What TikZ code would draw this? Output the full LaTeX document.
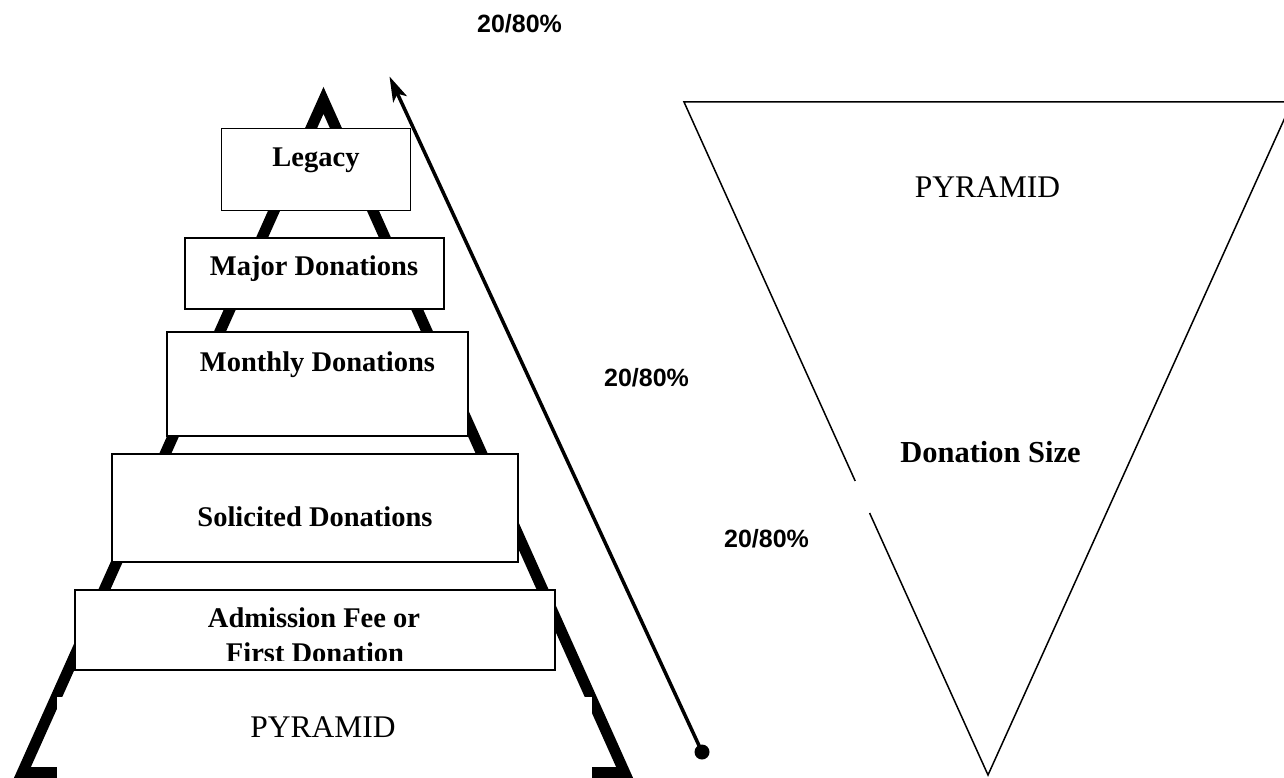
\documentclass[tikz,border=0pt]{standalone}
\usepackage{fontspec}
\setmainfont{Liberation Serif}
\newfontfamily\arialf{Liberation Sans}
\usetikzlibrary{arrows.meta}
\begin{document}
\begin{tikzpicture}[x=1pt,y=-1pt,
  tier/.style={draw=black, line width=1.8pt, fill=white, inner sep=0pt, outer sep=0pt},
  tiertext/.style={font=\fontsize{28.5}{32}\selectfont\bfseries, anchor=base, inner sep=0pt},
  pyrtext/.style={font=\fontsize{31.5}{34}\selectfont, anchor=base, inner sep=0pt},
  sizetext/.style={font=\fontsize{30.5}{34}\selectfont\bfseries, anchor=base, inner sep=0pt},
  pct/.style={font=\arialf\bfseries\fontsize{25}{28}\selectfont, anchor=base, inner sep=0pt},
  thickpyr/.style={line width=11pt, line join=miter},
  thinpyr/.style={line width=1.5pt, line join=miter},
  arrowline/.style={line width=3.5pt, -{Stealth[length=25pt,width=15pt,inset=6pt]}}
]
\clip (0,0) rectangle (1284,778);
\fill[white] (0,0) rectangle (1284,778);

% big pyramid
\coordinate (apex) at (323.5,100.4);
\coordinate (bl) at (22.4,772.5);
\coordinate (br) at (624.6,772.5);
\draw[thickpyr] (apex) -- (bl) -- (br) -- cycle;
\fill[white] (57,697) rectangle (592,790);
\node[pyrtext] (pyr1) at (323,737) {PYRAMID};

% tiers
\node[tier, minimum width=189, minimum height=82] (legacy) at (316,169.5) {};
\node[tiertext] (legacyT) at (316,167) {Legacy};

\node[tier, minimum width=259, minimum height=71] (major) at (314.5,273.5) {};
\node[tiertext] (majorT) at (314,275) {Major Donations};

\node[tier, minimum width=301, minimum height=104] (monthly) at (317.5,384) {};
\node[tiertext] (monthlyT) at (317.5,371) {Monthly Donations};

\node[tier, minimum width=406, minimum height=108] (solicited) at (315,508) {};
\node[tiertext] (solicitedT) at (315,526) {Solicited Donations};

\node[tier, minimum width=480, minimum height=80] (admission) at (315,630) {};
\node[tiertext] (admT1) at (314,627) {Admission Fee or};
\begin{scope}
  \clip (75,590) rectangle (555,660);
  \node[tiertext] (admT2) at (315,662) {First Donation};
\end{scope}

% inverted pyramid
\coordinate (tl) at (684,102);
\coordinate (tr) at (1292,102);
\coordinate (bt) at (988,775);
\coordinate (g1) at (855.2,481);
\coordinate (g2) at (869.6,513);
\draw[thinpyr] (g1) -- (tl) -- (tr) -- (bt) -- (g2);
\node[pyrtext] (pyr2) at (987.5,197) {PYRAMID};
\node[sizetext] (dsize) at (990.5,462) {Donation Size};

% percentages
\node[pct] (p1) at (519.5,33) {20/80\%};
\node[pct] (p2) at (646.5,386) {20/80\%};
\node[pct] (p3) at (766.5,547) {20/80\%};

% arrow
\coordinate (arrS) at (702,752);
\coordinate (arrE) at (389.5,76.5);
\draw[arrowline] (arrS) -- (arrE);
\fill (arrS) circle (7.5);
\end{tikzpicture}
\end{document}
